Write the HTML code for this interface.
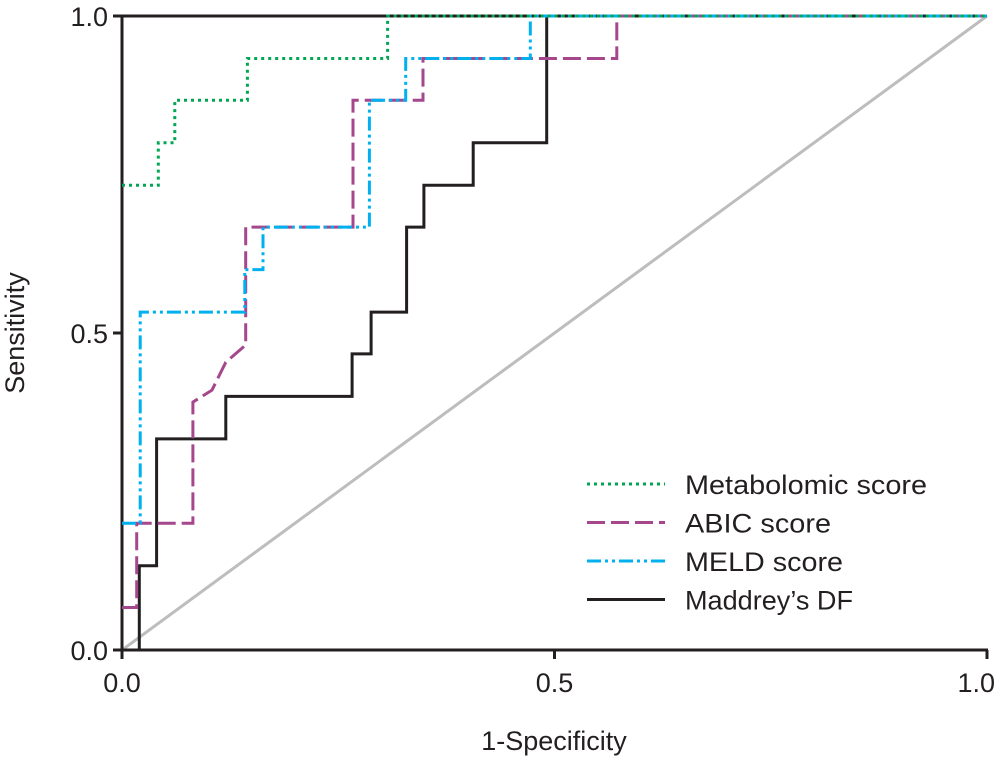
<!DOCTYPE html>
<html><head><meta charset="utf-8"><style>
html,body{margin:0;padding:0;background:#fff;}
svg{display:block;font-family:"Liberation Sans",sans-serif;}
</style></head><body>
<svg id="chart" width="996" height="758" viewBox="0 0 996 758" xmlns="http://www.w3.org/2000/svg">
<g id="axes"></g>
<g id="series"></g>
<g id="legend"></g>
<text x="554" y="750" font-size="27" text-anchor="middle" fill="#231f20">1-Specificity</text>
<text transform="translate(24,333) rotate(-90)" font-size="27" text-anchor="middle" fill="#231f20">Sensitivity</text>
</svg>
<script>
const xTicks = [0, 0.5, 1];
const yTicks = [0, 0.5, 1];
const tickLabels = ["0.0", "0.5", "1.0"];
const seriesNames = ["Metabolomic score", "ABIC score", "MELD score", "Maddrey’s DF"];
const metabolomicX = [0, 0.042, 0.042, 0.061, 0.061, 0.145, 0.145, 0.307, 0.307, 1];
const metabolomicY = [0.733, 0.733, 0.8, 0.8, 0.867, 0.867, 0.933, 0.933, 1, 1];
const abicX = [0, 0.017, 0.017, 0.082, 0.082, 0.104, 0.120, 0.143, 0.143, 0.267, 0.267, 0.348, 0.348, 0.572, 0.572, 1];
const abicY = [0.067, 0.067, 0.2, 0.2, 0.391, 0.41, 0.454, 0.481, 0.667, 0.667, 0.867, 0.867, 0.933, 0.933, 1, 1];
const meldX = [0, 0.021, 0.021, 0.142, 0.142, 0.163, 0.163, 0.286, 0.286, 0.328, 0.328, 0.472, 0.472, 1];
const meldY = [0.2, 0.2, 0.533, 0.533, 0.6, 0.6, 0.667, 0.667, 0.867, 0.867, 0.933, 0.933, 1, 1];
const maddreyX = [0.02, 0.02, 0.04, 0.04, 0.12, 0.12, 0.266, 0.266, 0.288, 0.288, 0.329, 0.329, 0.349, 0.349, 0.406, 0.406, 0.491, 0.491, 1];
const maddreyY = [0, 0.133, 0.133, 0.333, 0.333, 0.4, 0.4, 0.467, 0.467, 0.533, 0.533, 0.667, 0.667, 0.733, 0.733, 0.8, 0.8, 1, 1];

const NS = "http://www.w3.org/2000/svg";
const X0 = 122, X1 = 987, Y0 = 650, Y1 = 16;
function sx(v){ return X0 + v * (X1 - X0); }
function sy(v){ return Y0 - v * (Y0 - Y1); }
function mk(tag, attrs, parent){
  const e = document.createElementNS(NS, tag);
  for (const k in attrs) e.setAttribute(k, attrs[k]);
  parent.appendChild(e); return e;
}
const axes = document.getElementById("axes");
const series = document.getElementById("series");
const legend = document.getElementById("legend");

const diag = mk("line", {x1: sx(0), y1: sy(0), x2: sx(1), y2: sy(1), stroke: "#bdbdbd", "stroke-width": 3}, axes);



const topf = mk("line", {x1: X0 - 1, y1: Y1, x2: X1, y2: Y1, stroke: "#231f20", "stroke-width": 3}, axes);



const xa = mk("line", {x1: X0 - 1, y1: Y0, x2: X1 + 1, y2: Y0, stroke: "#231f20", "stroke-width": 3}, axes);


const ya = mk("line", {x1: X0, y1: Y1 - 1, x2: X0, y2: Y0 + 1, stroke: "#231f20", "stroke-width": 3}, axes);



xTicks.forEach((t, i) => {
  const tk = mk("line", {x1: sx(t), y1: Y0, x2: sx(t), y2: Y0 + 9, stroke: "#231f20", "stroke-width": 3}, axes);
  
  
  const last = i === xTicks.length - 1;
  const tl = mk("text", {x: last ? 995 : sx(t), y: Y0 + 42, "font-size": 27, "text-anchor": last ? "end" : "middle", fill: "#231f20"}, axes);
  tl.textContent = tickLabels[i];
  
  
});
yTicks.forEach((t, i) => {
  const tk = mk("line", {x1: X0 - 9, y1: sy(t), x2: X0, y2: sy(t), stroke: "#231f20", "stroke-width": 3}, axes);
  
  
  const tl = mk("text", {x: X0 - 14, y: sy(t) + 10, "font-size": 27, "text-anchor": "end", fill: "#231f20"}, axes);
  tl.textContent = tickLabels[i];
  
  
});

const styles = [
  {stroke: "#00a651", dash: "3 4", name: "metabolomic-score-line"},
  {stroke: "#a5478c", dash: "18 6", name: "abic-score-line"},
  {stroke: "#00b0ef", dash: "14 4 3 4 3 4", name: "meld-score-line"},
  {stroke: "#231f20", dash: "none", name: "maddrey-df-line"}
];
const data = [[metabolomicX, metabolomicY], [abicX, abicY], [meldX, meldY], [maddreyX, maddreyY]];
const order = [3, 1, 2, 0];
order.forEach(i => {
  const [xs, ys] = data[i];
  const d = xs.map((v, j) => (j ? "L" : "M") + sx(v).toFixed(1) + " " + sy(ys[j]).toFixed(1)).join(" ");
  const p = mk("path", {d: d, fill: "none", stroke: styles[i].stroke, "stroke-width": 3, "stroke-dasharray": styles[i].dash}, series);
  
  
});

seriesNames.forEach((n, i) => {
  const y = 484 + i * 38.5;
  const g = mk("g", {}, legend);
  
  
  mk("line", {x1: 587, y1: y, x2: 665, y2: y, stroke: styles[i].stroke, "stroke-width": 3, "stroke-dasharray": styles[i].dash}, g);
  const t = mk("text", {x: 685, y: y + 10, "font-size": 27, fill: "#231f20", textLength: [242, 146, 158, 168][i], lengthAdjust: "spacingAndGlyphs"}, g);
  t.textContent = n;
});
</script>
</body></html>
